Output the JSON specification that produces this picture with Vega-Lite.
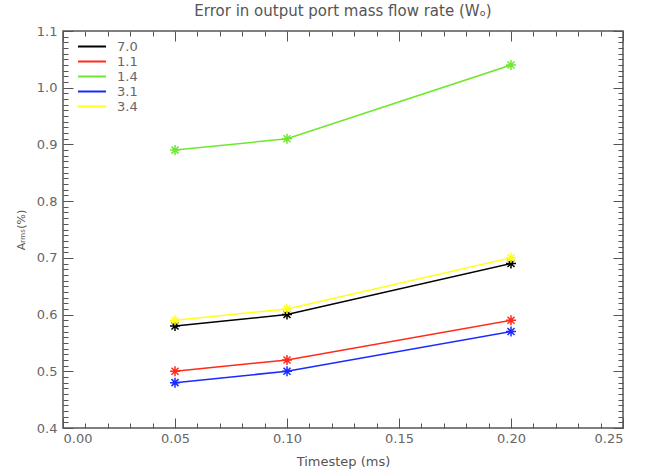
{
  "$schema": "https://vega.github.io/schema/vega-lite/v6.json",
  "autosize": "none",
  "width": 560,
  "height": 397,
  "padding": {"left": 63, "top": 31, "right": 22, "bottom": 44},
  "title": {"text": "Error in output port mass flow rate (Wₒ)", "font": "DejaVu Sans", "fontSize": 15, "fontWeight": "normal", "color": "#555555", "offset": 6},
  "config": {
    "view": {"stroke": "#555555", "strokeWidth": 1.5}
  },
  "data": {"values": [
    {"t": 0.05, "v": 0.58, "s": "7.0"}, {"t": 0.10, "v": 0.60, "s": "7.0"}, {"t": 0.20, "v": 0.69, "s": "7.0"},
    {"t": 0.05, "v": 0.50, "s": "1.1"}, {"t": 0.10, "v": 0.52, "s": "1.1"}, {"t": 0.20, "v": 0.59, "s": "1.1"},
    {"t": 0.05, "v": 0.89, "s": "1.4"}, {"t": 0.10, "v": 0.91, "s": "1.4"}, {"t": 0.20, "v": 1.04, "s": "1.4"},
    {"t": 0.05, "v": 0.48, "s": "3.1"}, {"t": 0.10, "v": 0.50, "s": "3.1"}, {"t": 0.20, "v": 0.57, "s": "3.1"},
    {"t": 0.05, "v": 0.59, "s": "3.4"}, {"t": 0.10, "v": 0.61, "s": "3.4"}, {"t": 0.20, "v": 0.70, "s": "3.4"}
  ]},
  "layer": [
    {
      "mark": {"type": "line", "strokeWidth": 1.5},
      "encoding": {
        "x": {"field": "t", "type": "quantitative", "scale": {"domain": [0, 0.25], "nice": false, "zero": false},
          "axis": {"orient": "bottom", "values": [0,0.01,0.02,0.03,0.04,0.05,0.06,0.07,0.08,0.09,0.1,0.11,0.12,0.13,0.14,0.15,0.16,0.17,0.18,0.19,0.2,0.21,0.22,0.23,0.24,0.25],
            "labelExpr": "abs(datum.value*20 - round(datum.value*20)) < 0.001 ? format(datum.value, '.2f') : ''",
            "gridOpacity": 0, "domainOpacity": 0,
            "labelFont": "DejaVu Sans", "labelFontSize": 13, "labelColor": "#666666",
            "titleFont": "DejaVu Sans", "titleFontWeight": "normal", "titleColor": "#555555",
            "tickColor": "#555555", "tickSize": -10,
            "tickDash": {"condition": {"test": "abs(datum.value*20 - round(datum.value*20)) < 0.001", "value": [30, 1]}, "value": [5, 30]},
            "labelPadding": 14, "title": "Timestep (ms)", "titleFontSize": 13, "titlePadding": 10}},
        "y": {"field": "v", "type": "quantitative", "scale": {"domain": [0.4, 1.1], "nice": false, "zero": false},
          "axis": {"orient": "left", "values": [0.4,0.41,0.42,0.43,0.44,0.45,0.46,0.47,0.48,0.49,0.5,0.51,0.52,0.53,0.54,0.55,0.56,0.57,0.58,0.59,0.6,0.61,0.62,0.63,0.64,0.65,0.66,0.67,0.68,0.69,0.7,0.71,0.72,0.73,0.74,0.75,0.76,0.77,0.78,0.79,0.8,0.81,0.82,0.83,0.84,0.85,0.86,0.87,0.88,0.89,0.9,0.91,0.92,0.93,0.94,0.95,0.96,0.97,0.98,0.99,1.0,1.01,1.02,1.03,1.04,1.05,1.06,1.07,1.08,1.09,1.1],
            "labelExpr": "abs(datum.value*10 - round(datum.value*10)) < 0.001 ? format(datum.value, '.1f') : ''",
            "gridOpacity": 0, "domainOpacity": 0,
            "labelFont": "DejaVu Sans", "labelFontSize": 13, "labelColor": "#666666",
            "titleFont": "DejaVu Sans", "titleFontWeight": "normal", "titleColor": "#555555",
            "tickColor": "#555555", "tickSize": -10,
            "tickDash": {"condition": {"test": "abs(datum.value*10 - round(datum.value*10)) < 0.001", "value": [30, 1]}, "value": [5, 30]},
            "labelPadding": 16, "title": "Aᵣₘₛ(%)", "titleFontSize": 11, "titlePadding": 10}},
        "color": {"field": "s", "type": "nominal", "scale": {"domain": ["7.0", "1.1", "1.4", "3.1", "3.4"], "range": ["#000000", "#ff2a1a", "#6ee82e", "#1a2aff", "#ffff1a"]},
          "legend": {"title": null, "orient": "none", "legendX": 14, "legendY": 8, "symbolType": "stroke", "symbolSize": 784, "symbolStrokeWidth": 2, "clipHeight": 15, "rowPadding": 0, "labelFont": "DejaVu Sans", "labelFontSize": 13, "labelColor": "#666666", "labelOffset": 10}}
      }
    },
    {
      "mark": {"type": "point", "shape": "M-1,0L1,0M0,-1L0,1M-0.7,-0.7L0.7,0.7M-0.7,0.7L0.7,-0.7", "filled": false, "size": 100, "strokeWidth": 1.5, "opacity": 1},
      "encoding": {
        "x": {"field": "t", "type": "quantitative",
          "axis": {"orient": "top", "values": [0,0.01,0.02,0.03,0.04,0.05,0.06,0.07,0.08,0.09,0.1,0.11,0.12,0.13,0.14,0.15,0.16,0.17,0.18,0.19,0.2,0.21,0.22,0.23,0.24,0.25],
            "labels": false, "title": null, "tickColor": "#555555", "gridOpacity": 0, "domainOpacity": 0, "tickSize": -10,
            "tickDash": {"condition": {"test": "abs(datum.value*20 - round(datum.value*20)) < 0.001", "value": [30, 1]}, "value": [5, 30]}}},
        "y": {"field": "v", "type": "quantitative",
          "axis": {"orient": "right", "values": [0.4,0.41,0.42,0.43,0.44,0.45,0.46,0.47,0.48,0.49,0.5,0.51,0.52,0.53,0.54,0.55,0.56,0.57,0.58,0.59,0.6,0.61,0.62,0.63,0.64,0.65,0.66,0.67,0.68,0.69,0.7,0.71,0.72,0.73,0.74,0.75,0.76,0.77,0.78,0.79,0.8,0.81,0.82,0.83,0.84,0.85,0.86,0.87,0.88,0.89,0.9,0.91,0.92,0.93,0.94,0.95,0.96,0.97,0.98,0.99,1.0,1.01,1.02,1.03,1.04,1.05,1.06,1.07,1.08,1.09,1.1],
            "labels": false, "title": null, "tickColor": "#555555", "gridOpacity": 0, "domainOpacity": 0, "tickSize": -10,
            "tickDash": {"condition": {"test": "abs(datum.value*10 - round(datum.value*10)) < 0.001", "value": [30, 1]}, "value": [5, 30]}}},
        "color": {"field": "s", "type": "nominal"}
      }
    }
  ],
  "resolve": {"axis": {"x": "independent", "y": "independent"}}
}
